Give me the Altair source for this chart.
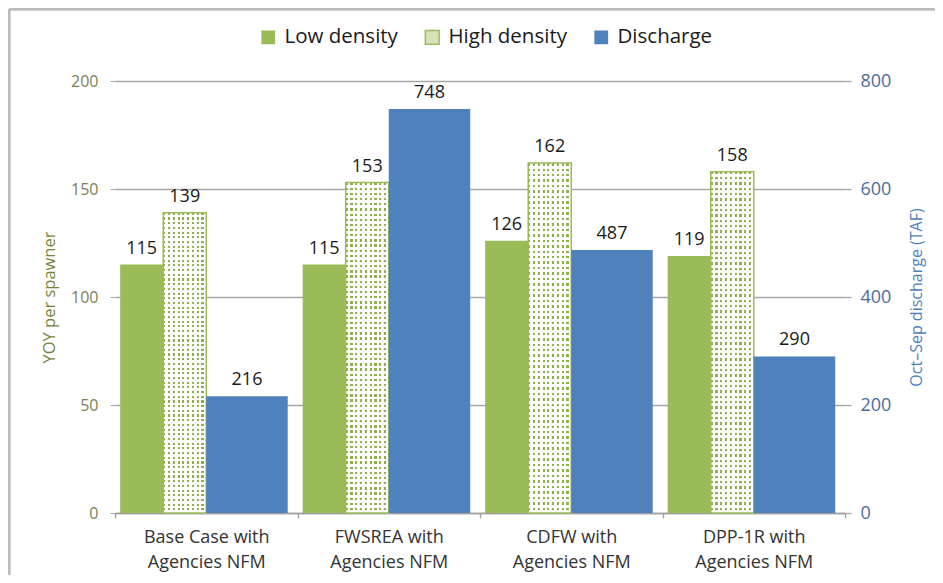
import altair as alt
import pandas as pd

# ---- data ----
categories = [
    "Base Case with Agencies NFM",
    "FWSREA with Agencies NFM",
    "CDFW with Agencies NFM",
    "DPP-1R with Agencies NFM",
]
low_density = [115, 115, 126, 119]
high_density = [139, 153, 162, 158]
discharge = [216, 748, 487, 290]
series_names = ["Low density", "High density", "Discharge"]
left_ticks = [0, 50, 100, 150, 200]
right_ticks = [0, 200, 400, 600, 800]

GREEN = "#9bbb59"
BLUE = "#4f81bd"
PALE = "#d5e4b8"
FONT = "Open Sans"

df_yoy = pd.DataFrame({
    "category": categories * 2,
    "series": ["Low density"] * len(categories) + ["High density"] * len(categories),
    "value": low_density + high_density,
})
df_low = df_yoy[df_yoy.series == "Low density"]
df_high = df_yoy[df_yoy.series == "High density"]
df_dis = pd.DataFrame({"category": categories, "series": "Discharge", "value": discharge})

# ---- dotted texture for the high density bars (two striped gradients) ----
def stripes(n, on_color, off_color, on_frac, horizontal):
    stops = []
    for i in range(n):
        a = i / n
        b = (i + on_frac) / n
        c = (i + 1) / n
        stops += [
            alt.GradientStop(offset=a, color=on_color),
            alt.GradientStop(offset=b, color=on_color),
            alt.GradientStop(offset=b, color=off_color),
            alt.GradientStop(offset=c, color=off_color),
        ]
    if horizontal:
        return alt.LinearGradient(gradient="linear", stops=stops, x1=0, x2=1, y1=0, y2=0)
    return alt.LinearGradient(gradient="linear", stops=stops, x1=0, x2=0, y1=0, y2=1)

vertical_stripes = stripes(9, "#8db04a", "#ffffff", 0.45, True)
horizontal_mask = stripes(64, "rgba(255,255,255,0)", "#ffffff", 0.45, False)

label_expr = ("[substring(datum.label, 0, indexof(datum.label, 'with') + 4), "
              "substring(datum.label, indexof(datum.label, 'with') + 5)]")

x_enc = alt.X(
    "category:N", sort=categories,
    scale=alt.Scale(paddingInner=0, paddingOuter=0),
    axis=alt.Axis(
        title=None, labelExpr=label_expr, labelAngle=0, tickBand="extent",
        labelFont=FONT, labelFontSize=18, labelColor="#333333", labelLineHeight=25,
        labelPadding=10, domainColor="#a0a0a0", tickColor="#a0a0a0", tickSize=5,
        domainWidth=1.3, tickWidth=1.3,
    ),
)
x_plain = alt.X("category:N", sort=categories)

off_yoy = alt.XOffset(
    "series:N",
    scale=alt.Scale(domain=["Low density", "High density", "gap1", "gap2"],
                    paddingInner=0, paddingOuter=0.12),
)
off_dis = alt.XOffset(
    "series:N",
    scale=alt.Scale(domain=["gap", "Discharge"], paddingInner=0, paddingOuter=0.12),
)

y_left = alt.Y(
    "value:Q",
    scale=alt.Scale(domain=[0, 200]),
    axis=alt.Axis(
        values=left_ticks, title="YOY per spawner", orient="left", grid=True,
        gridColor="#a6a6a6", gridWidth=1.3, domain=False, tickColor="#a6a6a6",
        tickSize=5, labelFont=FONT, labelFontSize=16, labelColor="#7b8056",
        labelPadding=12, titleFont=FONT, titleFontSize=16.5, titleFontWeight="normal",
        titleColor="#76843c", titlePadding=13,
    ),
)
y_left_plain = alt.Y("value:Q", scale=alt.Scale(domain=[0, 200]))

y_right = alt.Y(
    "value:Q",
    scale=alt.Scale(domain=[0, 800]),
    axis=alt.Axis(
        values=right_ticks, title="Oct\u2013Sep discharge (TAF)", orient="right",
        grid=False, domain=False, tickColor="#a6a6a6", tickSize=6, tickWidth=1.3,
        labelFont=FONT, labelFontSize=18, labelColor="#4d6c9c", labelPadding=9,
        titleFont=FONT, titleFontSize=16, titleFontWeight="normal",
        titleColor="#4f81bd", titlePadding=34, titleAngle=270,
    ),
)
y_right_plain = alt.Y("value:Q", scale=alt.Scale(domain=[0, 800]))

color_scale = alt.Scale(domain=series_names, range=[GREEN, PALE, BLUE])
legend = alt.Legend(
    title=None, orient="none", direction="horizontal", legendX=143, legendY=-54,
    symbolType="square", symbolSize=190,
    symbolStrokeColor=alt.ExprRef(
        "datum.value === 'High density' ? '#9bbb59' : 'transparent'"),
    symbolStrokeWidth=1.5,
    labelFont=FONT, labelFontSize=20.5, labelColor="#1a1a1a", labelOffset=6,
    columnPadding=24,
)

low_bars = alt.Chart(df_low).mark_bar().encode(
    x=x_enc, xOffset=off_yoy, y=y_left,
    color=alt.Color("series:N", scale=color_scale, legend=legend),
)
high_bars = alt.Chart(df_high).mark_bar(fill=vertical_stripes).encode(
    x=x_plain, xOffset=off_yoy, y=y_left_plain,
)
high_mask = alt.Chart(df_high).mark_bar(
    fill=horizontal_mask, stroke=GREEN, strokeWidth=1.5
).encode(x=x_plain, xOffset=off_yoy, y=y_left_plain)

yoy_labels = alt.Chart(df_yoy).mark_text(
    baseline="bottom", dy=-7, font=FONT, fontSize=18, color="#1a1a1a"
).encode(x=x_plain, xOffset=off_yoy, y=y_left_plain, text="value:Q")

frame_top = alt.Chart(df_low).mark_rule(color="#bdbdbd", strokeWidth=2.5).encode(
    x=alt.value(-106), x2=alt.value(830), y=alt.value(-72)
)
frame_left = alt.Chart(df_low).mark_rule(color="#bdbdbd", strokeWidth=2.5).encode(
    x=alt.value(-106), y=alt.value(-72), y2=alt.value(494)
)

left = alt.layer(frame_top, frame_left, low_bars, high_bars, high_mask, yoy_labels)

dis_bars = alt.Chart(df_dis).mark_bar().encode(
    x=x_plain, xOffset=off_dis, y=y_right,
    color=alt.Color("series:N", scale=color_scale, legend=legend),
)
dis_labels = alt.Chart(df_dis).mark_text(
    baseline="bottom", dy=-7, font=FONT, fontSize=18, color="#1a1a1a"
).encode(x=x_plain, xOffset=off_dis, y=y_right_plain, text="value:Q")

right = alt.layer(dis_bars, dis_labels)

chart = (
    alt.layer(left, right)
    .resolve_scale(y="independent", xOffset="independent")
    .properties(
        width=730, height=432,
        autosize=alt.AutoSizeParams(type="none"),
        padding={"left": 107, "top": 73, "right": 90, "bottom": 62},
        background="white",
    )
    .configure_view(stroke=None)
)

chart.save("out.html", embed_options={"renderer": "svg", "actions": False})
